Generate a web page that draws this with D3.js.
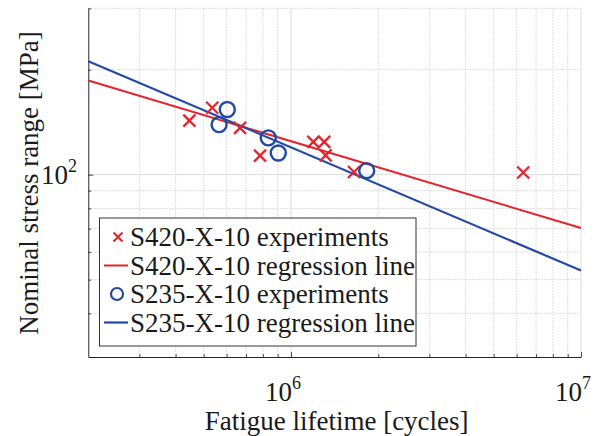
<!DOCTYPE html>
<html>
<head>
<meta charset="utf-8">
<script src="https://cdn.jsdelivr.net/npm/d3@7"></script>
<style>
  html, body { margin: 0; padding: 0; background: #fff; }
</style>
</head>
<body>
<svg id="chart" width="606" height="436" font-family="'Liberation Serif', 'Times New Roman', Times, 'DejaVu Serif', serif"></svg>
<script>
// S-N fatigue data (cycles, MPa)
const s420Cycles = [4.46e5, 5.35e5, 6.67e5, 7.82e5, 1.194e6, 1.302e6, 1.317e6, 1.649e6, 6.32e6];
const s420Stress = [142.9, 155.5, 136.2, 113.4, 124.2, 124.2, 113.6, 101.8, 101.5];
const s235Cycles = [6.03e5, 5.65e5, 8.35e5, 9.04e5, 1.824e6];
const s235Stress = [153.8, 139.2, 127.5, 115.4, 102.7];

// regression lines, evaluated at the ends of the lifetime range
const regCycles = [2e5, 1e7];
const s420RegStress = [186.2, 70.3];
const s235RegStress = [211.6, 53.1];

const xMajor = [1e6, 1e7];
const xMinor = [3e5, 4e5, 5e5, 6e5, 7e5, 8e5, 9e5, 2e6, 3e6, 4e6, 5e6, 6e6, 7e6, 8e6, 9e6];
const yMajor = [100];
const yMinor = [40, 50, 60, 70, 80, 90, 200, 300];
const xTickExp = [6, 7];
const yTickExp = [2];

const legendLabels = [
  "S420-X-10 experiments",
  "S420-X-10 regression line",
  "S235-X-10 experiments",
  "S235-X-10 regression line"
];

const RED = "#e5232b";
const BLUE = "#2349a6";
const INK = "#1a1a1a";
const FS = 27;

const svg = d3.select("#chart");
const plotL = 88.3, plotR = 581, plotT = 8.3, plotB = 357;

const x = d3.scaleLog().domain([2e5, 1e7]).range([plotL, plotR]);
const y = d3.scaleLog().domain([30, 300]).range([plotB, plotT]);

// grid
const grid = svg.append("g");
grid.selectAll("line.xmin").data(xMinor).join("line")
  .attr("x1", d => x(d)).attr("x2", d => x(d)).attr("y1", plotT).attr("y2", plotB)
  .attr("stroke", "#c8c8c8").attr("stroke-width", 0.8).attr("stroke-dasharray", "1.5,1.5");
grid.selectAll("line.ymin").data(yMinor).join("line")
  .attr("x1", plotL).attr("x2", plotR).attr("y1", d => y(d)).attr("y2", d => y(d))
  .attr("stroke", "#c8c8c8").attr("stroke-width", 0.8).attr("stroke-dasharray", "1.5,1.5");
grid.selectAll("line.xmaj").data(xMajor).join("line")
  .attr("x1", d => x(d)).attr("x2", d => x(d)).attr("y1", plotT).attr("y2", plotB)
  .attr("stroke", "#dcdcdc").attr("stroke-width", 1);
grid.selectAll("line.ymaj").data(yMajor).join("line")
  .attr("x1", plotL).attr("x2", plotR).attr("y1", d => y(d)).attr("y2", d => y(d))
  .attr("stroke", "#dcdcdc").attr("stroke-width", 1);

// axes with inward ticks
function styleAxis(g) {
  g.select(".domain").attr("stroke", "#262626").attr("stroke-width", 1);
  g.selectAll(".tick line").attr("stroke", "#262626").attr("stroke-width", 0.8);
  g.selectAll(".tick text").remove();
}
svg.append("g").attr("transform", `translate(0,${plotB})`)
  .call(d3.axisBottom(x).tickValues(xMinor).tickSize(-3).tickSizeOuter(0).tickFormat(""))
  .call(styleAxis);
svg.append("g").attr("transform", `translate(0,${plotB})`)
  .call(d3.axisBottom(x).tickValues(xMajor).tickSize(-5).tickSizeOuter(0).tickFormat(""))
  .call(styleAxis).select(".domain").remove();
svg.append("g").attr("transform", `translate(${plotL},0)`)
  .call(d3.axisLeft(y).tickValues(yMinor).tickSize(-3).tickSizeOuter(0).tickFormat(""))
  .call(styleAxis);
svg.append("g").attr("transform", `translate(${plotL},0)`)
  .call(d3.axisLeft(y).tickValues(yMajor).tickSize(-5).tickSizeOuter(0).tickFormat(""))
  .call(styleAxis).select(".domain").remove();

// tick labels as powers of ten
xMajor.forEach((v, i) => {
  const t = svg.append("text").attr("x", x(v) - 8).attr("y", 401).attr("fill", INK)
    .attr("text-anchor", "middle").attr("font-size", FS);
  t.append("tspan").text("10");
  t.append("tspan").attr("font-size", 18).attr("dy", -12).text(xTickExp[i]);
});
yMajor.forEach((v, i) => {
  const t = svg.append("text").attr("x", 77).attr("y", y(v) + 9).attr("fill", INK)
    .attr("text-anchor", "end").attr("font-size", FS);
  t.append("tspan").text("10");
  t.append("tspan").attr("font-size", 18).attr("dy", -12).text(yTickExp[i]);
});

// axis titles
svg.append("text").attr("x", (plotL + plotR) / 2 + 2).attr("y", 430).attr("fill", INK)
  .attr("text-anchor", "middle").attr("font-size", FS).text("Fatigue lifetime [cycles]");
svg.append("text").attr("transform", "translate(38,183) rotate(-90)").attr("fill", INK)
  .attr("text-anchor", "middle").attr("font-size", FS).text("Nominal stress range [MPa]");

// regression lines
const line = d3.line().x(d => x(d[0])).y(d => y(d[1]));
svg.append("path").datum(d3.zip(regCycles, s420RegStress)).attr("d", line)
  .attr("fill", "none").attr("stroke", RED).attr("stroke-width", 2);
svg.append("path").datum(d3.zip(regCycles, s235RegStress)).attr("d", line)
  .attr("fill", "none").attr("stroke", BLUE).attr("stroke-width", 2.2);

// markers
const crossPath = r => `M${-r},${-r}L${r},${r}M${-r},${r}L${r},${-r}`;
svg.append("g").selectAll("path").data(d3.zip(s420Cycles, s420Stress)).join("path")
  .attr("transform", d => `translate(${x(d[0])},${y(d[1])})`)
  .attr("d", crossPath(6)).attr("stroke", RED).attr("stroke-width", 2.2).attr("fill", "none");
svg.append("g").selectAll("circle").data(d3.zip(s235Cycles, s235Stress)).join("circle")
  .attr("cx", d => x(d[0])).attr("cy", d => y(d[1])).attr("r", 7.5)
  .attr("fill", "none").attr("stroke", BLUE).attr("stroke-width", 2.4);

// legend
const lg = svg.append("g");
lg.append("rect").attr("x", 99.5).attr("y", 218).attr("width", 316.5).attr("height", 128)
  .attr("fill", "#fff").attr("stroke", "#333").attr("stroke-width", 1);
const rowY = [237, 265.5, 294, 322.5];
lg.append("path").attr("transform", `translate(118,${rowY[0]})`).attr("d", crossPath(4.5))
  .attr("stroke", RED).attr("stroke-width", 2).attr("fill", "none");
lg.append("line").attr("x1", 104).attr("x2", 128).attr("y1", rowY[1]).attr("y2", rowY[1])
  .attr("stroke", RED).attr("stroke-width", 2);
lg.append("circle").attr("cx", 117).attr("cy", rowY[2]).attr("r", 6)
  .attr("fill", "none").attr("stroke", BLUE).attr("stroke-width", 2.2);
lg.append("line").attr("x1", 104).attr("x2", 128).attr("y1", rowY[3]).attr("y2", rowY[3])
  .attr("stroke", BLUE).attr("stroke-width", 2.2);
lg.selectAll("text").data(legendLabels).join("text").attr("fill", INK)
  .attr("x", 130).attr("y", (d, i) => rowY[i] + 9).attr("font-size", FS).text(d => d);
</script>
</body>
</html>
